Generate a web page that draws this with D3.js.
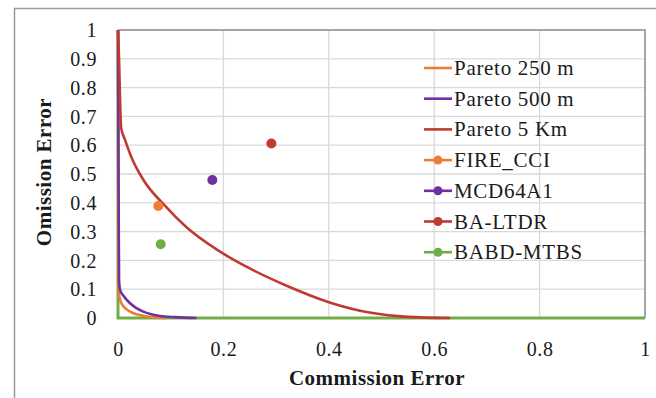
<!DOCTYPE html>
<html>
<head>
<meta charset="utf-8">
<script src="https://cdn.jsdelivr.net/npm/d3@7"></script>
<style>
    body { margin: 0; background: #fff; }
    .chart-area text { font-family: "Liberation Serif", "Times New Roman", serif; fill: #1a1a1a; }
    .grid line { stroke: #d9d9d9; stroke-width: 1.3; }
</style>
</head>
<body>
<div class="chart-area"></div>
<script>

// pareto fronts, [commission, omission]
const pareto250 = [[0, 1], [0.0005, 0.5], [0.001, 0.1], [0.003, 0.07], [0.007, 0.05], [0.015, 0.032],
    [0.023, 0.022], [0.035, 0.013], [0.048, 0.008], [0.065, 0.003], [0.08, 0.001], [0.09, 0]];
const pareto500 = [[0, 1], [0.001, 0.5], [0.002, 0.13], [0.004, 0.097], [0.01, 0.078], [0.023, 0.051],
    [0.035, 0.034], [0.048, 0.022], [0.065, 0.012], [0.08, 0.007], [0.11, 0.003], [0.149, 0]];
const pareto5km = [[0, 1], [0.002, 0.9], [0.004, 0.75], [0.006, 0.66], [0.013, 0.62], [0.025, 0.56],
    [0.048, 0.48], [0.089, 0.39], [0.13, 0.315], [0.187, 0.238], [0.25, 0.172], [0.32, 0.112],
    [0.40, 0.055], [0.48, 0.018], [0.55, 0.004], [0.63, 0]];
const paretoMtbs = [[0, 1], [0, 0], [1, 0]];

// burned area products
const productNames = ["FIRE_CCI", "MCD64A1", "BA-LTDR", "BABD-MTBS"];
const productCommission = [0.0765, 0.179, 0.291, 0.081];
const productOmission = [0.389, 0.479, 0.606, 0.256];

const lineNames = ["Pareto 250 m", "Pareto 500 m", "Pareto 5 Km"];

const xTicks = [0, 0.2, 0.4, 0.6, 0.8, 1];
const yTicks = [0, 0.1, 0.2, 0.3, 0.4, 0.5, 0.6, 0.7, 0.8, 0.9, 1];

const orange = "#ed7d31", purple = "#7030a0", red = "#be3a32", green = "#70ad47";

class ParetoVis {

    constructor(_parentElement) {
        this.parentElement = _parentElement;
        this.initVis();
    };

    initVis() {
        let vis = this;

        vis.margin = {top: 30, right: 11, bottom: 80, left: 118};
        vis.width = 656 - vis.margin.left - vis.margin.right;
        vis.height = 398 - vis.margin.top - vis.margin.bottom;

        vis.root = d3.select("." + vis.parentElement).append("svg")
            .attr("width", 656)
            .attr("height", 398);

        // outer chart border (top + left visible)
        vis.root.append("path")
            .attr("d", "M14.5,400 V8.5 H660")
            .attr("fill", "none")
            .attr("stroke", "#9a9a9a")
            .attr("stroke-width", 1.5);

        vis.svg = vis.root.append("g")
            .attr("transform", "translate(" + vis.margin.left + "," + vis.margin.top + ")");

        vis.x = d3.scaleLinear().domain([0, 1]).range([0, vis.width]);
        vis.y = d3.scaleLinear().domain([0, 1]).range([vis.height, 0]);

        vis.line = d3.line()
            .x(d => vis.x(d[0]))
            .y(d => vis.y(d[1]))
            .curve(d3.curveMonotoneX);

        this.updateVis();
    };

    updateVis() {
        let vis = this;

        // gridlines
        let grid = vis.svg.append("g").attr("class", "grid");
        grid.selectAll(".hline").data(yTicks).enter().append("line")
            .attr("x1", 0).attr("x2", vis.width)
            .attr("y1", d => vis.y(d)).attr("y2", d => vis.y(d));
        grid.selectAll(".vline").data(xTicks).enter().append("line")
            .attr("x1", d => vis.x(d)).attr("x2", d => vis.x(d))
            .attr("y1", 0).attr("y2", vis.height);

        // plot box top and right
        vis.svg.append("path")
            .attr("d", "M0," + vis.y(1) + " H" + vis.x(1) + " V" + vis.y(0))
            .attr("fill", "none")
            .attr("stroke", "#a6a6a6")
            .attr("stroke-width", 2);

        // axes (labels only, like excel)
        let xAxis = vis.svg.append("g")
            .attr("transform", "translate(0," + vis.height + ")")
            .call(d3.axisBottom(vis.x).tickValues(xTicks).tickSize(0).tickPadding(0).tickFormat(d3.format("")));
        xAxis.select(".domain").remove();
        xAxis.selectAll("text").attr("y", 38).attr("dy", null)
            .style("font-size", "20px").style("letter-spacing", "0.6px");

        let yAxis = vis.svg.append("g")
            .call(d3.axisLeft(vis.y).tickValues(yTicks).tickSize(0).tickPadding(0).tickFormat(d3.format("")));
        yAxis.select(".domain").remove();
        yAxis.selectAll("text").attr("x", -21).attr("dy", "0.33em")
            .style("font-size", "20px").style("letter-spacing", "0.6px");

        // pareto lines
        vis.svg.append("path").datum(paretoMtbs)
            .attr("d", d3.line().x(d => vis.x(d[0])).y(d => vis.y(d[1])))
            .attr("fill", "none").attr("stroke", green).attr("stroke-width", 3);

        let lines = [pareto250, pareto500, pareto5km];
        let lineColors = [orange, purple, red];
        lines.forEach((pts, i) => {
            vis.svg.append("path").datum(pts)
                .attr("d", vis.line)
                .attr("fill", "none")
                .attr("stroke", lineColors[i])
                .attr("stroke-width", 2.6);
        });

        // product points
        let pointColors = [orange, purple, red, green];
        vis.svg.selectAll(".product").data(productNames).enter().append("circle")
            .attr("cx", (d, i) => vis.x(productCommission[i]))
            .attr("cy", (d, i) => vis.y(productOmission[i]))
            .attr("r", 5)
            .attr("fill", (d, i) => pointColors[i]);

        // axis titles
        vis.svg.append("text")
            .attr("x", 259).attr("y", 355)
            .attr("text-anchor", "middle")
            .style("font-size", "21px").style("font-weight", "bold").style("letter-spacing", "0.5px")
            .text("Commission Error");

        vis.svg.append("text")
            .attr("transform", "translate(-67," + (vis.height / 2 - 2) + ") rotate(-90)")
            .attr("text-anchor", "middle")
            .style("font-size", "21px").style("font-weight", "bold").style("letter-spacing", "0.5px")
            .text("Omission Error");

        // legend
        let legend = vis.root.append("g").attr("transform", "translate(424,68)");
        let entries = lineNames.map((n, i) => ({name: n, color: lineColors[i], dot: false}))
            .concat(productNames.map((n, i) => ({name: n, color: pointColors[i], dot: true})));
        let item = legend.selectAll(".entry").data(entries).enter().append("g")
            .attr("transform", (d, i) => "translate(0," + (i * 30.7) + ")");
        item.append("line")
            .attr("x1", 0).attr("x2", 28)
            .attr("stroke", d => d.color).attr("stroke-width", 2.6);
        item.filter(d => d.dot).append("circle")
            .attr("cx", 14).attr("r", 4.5).attr("fill", d => d.color);
        item.append("text")
            .attr("x", 30).attr("y", 7)
            .style("font-size", "21px").style("letter-spacing", "0.7px")
            .text(d => d.name);
    }
}

new ParetoVis("chart-area");
</script>
</body>
</html>
